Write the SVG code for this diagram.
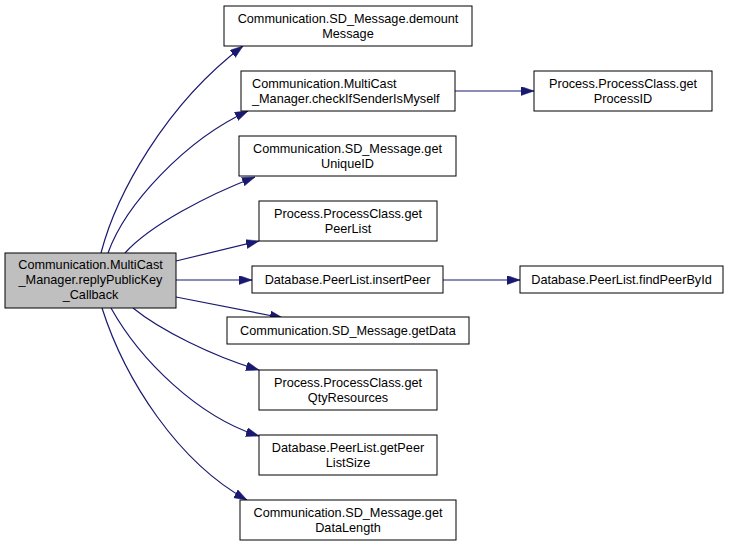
<svg xmlns="http://www.w3.org/2000/svg" width="732" height="547" viewBox="0 0 732 547">
<defs>
<style>
.node rect{fill:#ffffff;stroke:#000000;stroke-width:1}
.node.main rect{fill:#bfbfbf}
.node text{font-family:"Liberation Sans",Arial,sans-serif;font-size:12.7px;fill:#000000;text-anchor:middle}
.node text.left{text-anchor:start}
.edges path{fill:none;stroke:#191970;stroke-width:1.2;marker-end:url(#arr)}
</style>
<marker id="arr" markerUnits="userSpaceOnUse" markerWidth="13" markerHeight="10" refX="13" refY="4.5" orient="auto">
<path d="M0,0 L13,4.5 L0,9 z" fill="#191970" stroke="#191970" stroke-width="0.5"/>
</marker>
</defs>
<rect width="732" height="547" fill="#ffffff"/>
<g class="edges">
<path d="M101,253 C116,195 165,105 243,46"/>
<path d="M108,253 C125,205 185,140 248,111"/>
<path d="M125,253 C150,225 208,195 255,177"/>
<path d="M176,261 L259,241"/>
<path d="M176,280 L252,280"/>
<path d="M176,297 L283,318"/>
<path d="M133,308 C160,330 212,356 259,370"/>
<path d="M111,308 C140,360 198,417 259,436"/>
<path d="M102,308 C125,380 178,462 247,500"/>
<path d="M455,91 L534,91"/>
<path d="M443,280 L520,280"/>
</g>
<g id="main" class="node main">
<rect x="5" y="253" width="171" height="55"/>
<text x="90.5" y="269">Communication.MultiCast</text>
<text x="90.5" y="284">_Manager.replyPublicKey</text>
<text x="90.5" y="299">_Callback</text>
</g>
<g id="demountMessage" class="node">
<rect x="224" y="6" width="248" height="40"/>
<text x="348" y="22.5">Communication.SD_Message.demount</text>
<text x="348" y="37.5">Message</text>
</g>
<g id="checkIfSenderIsMyself" class="node">
<rect x="241" y="71" width="214" height="40"/>
<text class="left" x="252" y="87.5">Communication.MultiCast</text>
<text class="left" x="252" y="102.5">_Manager.checkIfSenderIsMyself</text>
</g>
<g id="getProcessID" class="node">
<rect x="534" y="71" width="178" height="40"/>
<text x="623" y="87.5">Process.ProcessClass.get</text>
<text x="623" y="102.5">ProcessID</text>
</g>
<g id="getUniqueID" class="node">
<rect x="239" y="136" width="217" height="40"/>
<text x="347.5" y="152.5">Communication.SD_Message.get</text>
<text x="347.5" y="167.5">UniqueID</text>
</g>
<g id="getPeerList" class="node">
<rect x="259" y="201" width="178" height="40"/>
<text x="348" y="217.5">Process.ProcessClass.get</text>
<text x="348" y="232.5">PeerList</text>
</g>
<g id="insertPeer" class="node">
<rect x="252" y="266" width="191" height="27"/>
<text x="347.5" y="284">Database.PeerList.insertPeer</text>
</g>
<g id="findPeerById" class="node">
<rect x="520" y="266" width="203" height="27"/>
<text x="621.5" y="284">Database.PeerList.findPeerById</text>
</g>
<g id="getData" class="node">
<rect x="227" y="317" width="242" height="27"/>
<text x="348" y="335">Communication.SD_Message.getData</text>
</g>
<g id="getQtyResources" class="node">
<rect x="259" y="370" width="178" height="40"/>
<text x="348" y="386.5">Process.ProcessClass.get</text>
<text x="348" y="401.5">QtyResources</text>
</g>
<g id="getPeerListSize" class="node">
<rect x="259" y="435" width="178" height="40"/>
<text x="348" y="451.5">Database.PeerList.getPeer</text>
<text x="348" y="466.5">ListSize</text>
</g>
<g id="getDataLength" class="node">
<rect x="240" y="500" width="216" height="40"/>
<text x="348" y="516.5">Communication.SD_Message.get</text>
<text x="348" y="531.5">DataLength</text>
</g>
</svg>
